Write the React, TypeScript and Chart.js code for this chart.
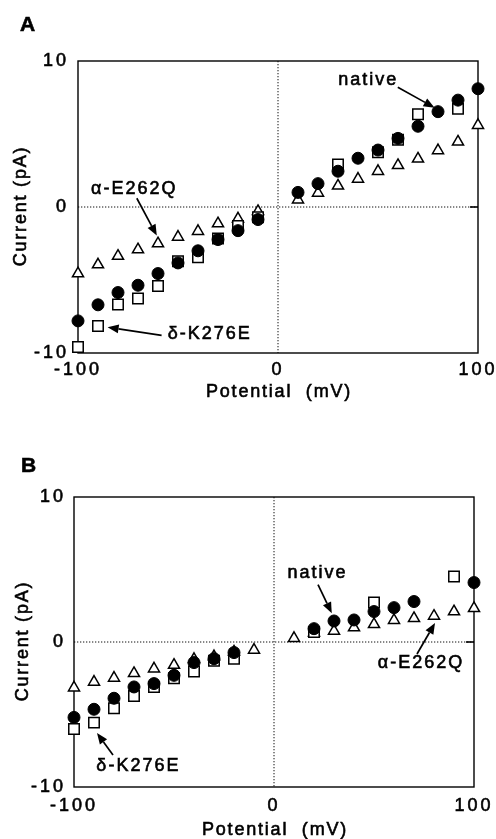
import { useEffect, useRef } from 'react';
import { Chart, registerables } from 'chart.js';

Chart.register(...registerables);

// ---- data ----
const potentials = [-100, -90, -80, -70, -60, -50, -40, -30, -20, -10, 10, 20, 30, 40, 50, 60, 70, 80, 90, 100];

const nativeA = [-7.8, -6.7, -5.86, -5.36, -4.56, -3.83, -3.0, -2.23, -1.62, -0.86, 1.0, 1.6, 2.45, 3.34, 3.9, 4.7, 5.53, 6.53, 7.32, 8.1];
const deltaA = [-9.59, -8.15, -6.68, -6.27, -5.41, -3.72, -3.45, -2.16, -1.3, -0.7, null, null, 2.92, null, 3.75, 4.6, 6.35, null, 6.72, null];
const alphaA = [-4.56, -3.95, -3.36, -2.92, -2.51, -2.05, -1.66, -1.14, -0.8, -0.3, 0.5, 0.96, 1.45, 1.92, 2.45, 2.85, 3.3, 3.87, 4.46, 5.6];

const nativeB = [-5.2, -4.64, -3.88, -3.1, -2.87, -2.3, -1.42, -1.15, -0.73, null, null, 0.92, 1.45, 1.52, 2.1, 2.37, 2.79, null, null, 4.1];
const deltaB = [-6.0, -5.56, -4.57, -3.72, -3.1, -2.5, -2.04, -1.3, -1.15, null, null, 0.69, null, null, 2.72, null, null, null, 4.51, null];
const alphaB = [-3.15, -2.76, -2.48, -2.16, -1.84, -1.59, -1.19, -1.0, -0.68, -0.55, 0.26, 0.64, 0.76, 0.99, 1.22, 1.5, 1.63, 1.79, 2.1, 2.32];

const xTickValues = [-100, 0, 100];
const xTickLabels = ['-100', '0', '100'];
const yTickValues = [-10, 0, 10];
const yTickLabels = ['-10', '0', '10'];

const xTitle = 'Potential  (mV)';
const yTitle = 'Current (pA)';
const seriesNames = ['native', 'δ-K276E', 'α-E262Q'];

// ---- layout / annotation config ----
type Note = { text: string; tx: number; ty: number; fx: number; fy: number; ax: number; ay: number };
type Panel = {
  letter: string;
  height: number;
  series: (number | null)[][];
  left: number; right: number; top: number; bottom: number;
  xPad: number; yPad: number;
  yTitleX: number; xTitleY: number;
  letterX: number; letterY: number;
  notes: Note[];
};

const FONT = "'Liberation Sans', Arial, Helvetica, sans-serif";
const TEXT_STROKE = 0.6;

const panels: Panel[] = [
  {
    letter: 'A', height: 420,
    series: [nativeA, deltaA, alphaA],
    left: 78, right: 478, top: 61, bottom: 353,
    xPad: 6, yPad: 9,
    yTitleX: 21, xTitleY: 392,
    letterX: 20, letterY: 31,
    notes: [
      { text: seriesNames[0], tx: 44.6, ty: 8.68, fx: 59.9, fy: 8.2, ax: 78.3, ay: 6.8 },
      { text: seriesNames[2], tx: -72.4, ty: 1.25, fx: -70.6, fy: 0.6, ax: -60.6, ay: -1.95 },
      { text: seriesNames[1], tx: -34.6, ty: -8.72, fx: -58.2, fy: -8.79, ax: -85.2, ay: -8.24 },
    ],
  },
  {
    letter: 'B', height: 419,
    series: [nativeB, deltaB, alphaB],
    left: 74, right: 474, top: 77, bottom: 367,
    xPad: 8, yPad: 8,
    yTitleX: 23, xTitleY: 410,
    letterX: 21, letterY: 52,
    notes: [
      { text: seriesNames[0], tx: 21.3, ty: 4.76, fx: 22, fy: 3.95, ax: 28.9, ay: 1.98 },
      { text: seriesNames[2], tx: 73, ty: -1.45, fx: 71.5, fy: -0.83, ax: 80.5, ay: 1.31 },
      { text: seriesNames[1], tx: -68.3, ty: -8.55, fx: -80.5, fy: -7.79, ax: -88.5, ay: -6.28 },
    ],
  },
];

function makeData(values: (number | null)[]) {
  const out: { x: number; y: number }[] = [];
  potentials.forEach((p, i) => {
    const v = values[i];
    if (v !== null && v !== undefined) out.push({ x: p, y: v });
  });
  return out;
}

function drawArrow(ctx: CanvasRenderingContext2D, x1: number, y1: number, x2: number, y2: number) {
  const ang = Math.atan2(y2 - y1, x2 - x1);
  const len = 11;
  const hw = 4.5;
  const bx = x2 - Math.cos(ang) * len;
  const by = y2 - Math.sin(ang) * len;
  ctx.beginPath();
  ctx.moveTo(x1, y1);
  ctx.lineTo(bx, by);
  ctx.lineWidth = 1.7;
  ctx.strokeStyle = '#000';
  ctx.stroke();
  ctx.beginPath();
  ctx.moveTo(x2, y2);
  ctx.lineTo(bx + Math.sin(ang) * hw, by - Math.cos(ang) * hw);
  ctx.lineTo(bx - Math.sin(ang) * hw, by + Math.cos(ang) * hw);
  ctx.closePath();
  ctx.fillStyle = '#000';
  ctx.fill();
}

function drawText(ctx: CanvasRenderingContext2D, s: string, x: number, y: number) {
  ctx.lineWidth = TEXT_STROKE;
  ctx.strokeStyle = '#000';
  ctx.strokeText(s, x, y);
  ctx.fillText(s, x, y);
}

function decorPlugin(panel: Panel) {
  return {
    id: 'decor' + panel.letter,
    beforeDraw(chart: any) {
      (chart.ctx as any).letterSpacing = '3px';
    },
    beforeDatasetsDraw(chart: any) {
      const ctx: CanvasRenderingContext2D = chart.ctx;
      const { left, right, top, bottom } = chart.chartArea;
      const xs = chart.scales.x;
      const ys = chart.scales.y;
      ctx.save();
      (ctx as any).letterSpacing = '0px';
      // dotted zero lines
      ctx.setLineDash([1.3, 1.7]);
      ctx.lineWidth = 1;
      ctx.strokeStyle = '#111';
      const y0 = ys.getPixelForValue(0);
      const x0 = xs.getPixelForValue(0);
      ctx.beginPath();
      ctx.moveTo(left, y0);
      ctx.lineTo(right, y0);
      ctx.moveTo(x0, top);
      ctx.lineTo(x0, bottom);
      ctx.stroke();
      ctx.setLineDash([]);
      // frame
      ctx.lineWidth = 1.4;
      ctx.strokeStyle = '#000';
      ctx.strokeRect(left, top, right - left, bottom - top);
      // short inner tick at right end of zero line
      ctx.lineWidth = 1.6;
      ctx.beginPath();
      ctx.moveTo(right - 8, y0);
      ctx.lineTo(right, y0);
      ctx.stroke();
      ctx.restore();
    },
    afterDatasetsDraw(chart: any) {
      const ctx: CanvasRenderingContext2D = chart.ctx;
      const xs = chart.scales.x;
      const ys = chart.scales.y;
      ctx.save();
      (ctx as any).letterSpacing = '2px';
      ctx.font = `18px ${FONT}`;
      ctx.fillStyle = '#000';
      ctx.textAlign = 'center';
      ctx.textBaseline = 'middle';
      panel.notes.forEach((n) => {
        drawText(ctx, n.text, xs.getPixelForValue(n.tx) + 1, ys.getPixelForValue(n.ty));
        drawArrow(
          ctx,
          xs.getPixelForValue(n.fx), ys.getPixelForValue(n.fy),
          xs.getPixelForValue(n.ax), ys.getPixelForValue(n.ay)
        );
      });
      ctx.restore();
    },
    afterDraw(chart: any) {
      const ctx: CanvasRenderingContext2D = chart.ctx;
      const { left, right, top, bottom } = chart.chartArea;
      ctx.save();
      ctx.fillStyle = '#000';
      (ctx as any).letterSpacing = '1.8px';
      ctx.font = `18px ${FONT}`;
      ctx.textAlign = 'center';
      ctx.textBaseline = 'middle';
      drawText(ctx, xTitle, (left + right) / 2 + 1, panel.xTitleY);
      ctx.save();
      ctx.translate(panel.yTitleX, (top + bottom) / 2);
      ctx.rotate(-Math.PI / 2);
      drawText(ctx, yTitle, 1, 0);
      ctx.restore();
      (ctx as any).letterSpacing = '0px';
      ctx.font = `bold 21px ${FONT}`;
      ctx.textAlign = 'left';
      ctx.textBaseline = 'alphabetic';
      drawText(ctx, panel.letter, panel.letterX, panel.letterY);
      ctx.restore();
    },
  };
}

function PanelChart({ panel }: { panel: Panel }) {
  const ref = useRef<HTMLCanvasElement>(null);
  useEffect(() => {
    if (!ref.current) return;
    const styles = [
      { pointStyle: 'circle', pointRadius: 6, backgroundColor: '#000', borderColor: '#000', borderWidth: 1 },
      { pointStyle: 'rect', pointRadius: 7.4, backgroundColor: '#fff', borderColor: '#000', borderWidth: 1.5 },
      { pointStyle: 'triangle', pointRadius: 6.4, backgroundColor: '#fff', borderColor: '#000', borderWidth: 1.5 },
    ];
    const tickFont = { family: FONT, size: 18 };
    const chart = new Chart(ref.current, {
      type: 'scatter',
      data: {
        datasets: panel.series.map((s, i) => ({
          label: seriesNames[i],
          data: makeData(s),
          order: i,
          pointStyle: styles[i].pointStyle as any,
          pointRadius: styles[i].pointRadius,
          pointHoverRadius: styles[i].pointRadius,
          pointBackgroundColor: styles[i].backgroundColor,
          pointBorderColor: styles[i].borderColor,
          pointBorderWidth: styles[i].borderWidth,
          backgroundColor: styles[i].backgroundColor,
          borderColor: styles[i].borderColor,
          showLine: false,
          clip: false as any,
        })),
      },
      options: {
        animation: false,
        responsive: false,
        devicePixelRatio: 1,
        events: [],
        layout: { padding: { left: 0, right: 496 - panel.right, top: panel.top, bottom: 0 } },
        plugins: { legend: { display: false }, tooltip: { enabled: false }, title: { display: false } },
        scales: {
          x: {
            type: 'linear',
            min: -100,
            max: 100,
            grid: { display: false, drawTicks: false },
            border: { display: false },
            afterBuildTicks: (scale: any) => {
              scale.ticks = xTickValues.map((v) => ({ value: v }));
            },
            afterFit: (scale: any) => {
              scale.height = panel.height - panel.bottom;
              scale.paddingLeft = 0;
              scale.paddingRight = 0;
            },
            ticks: {
              autoSkip: false,
              maxRotation: 0,
              padding: panel.xPad,
              color: '#000',
              textStrokeColor: '#000',
              textStrokeWidth: TEXT_STROKE,
              font: tickFont,
              callback: (_v: any, i: number) => xTickLabels[i],
            },
          },
          y: {
            type: 'linear',
            min: -10,
            max: 10,
            grid: { display: false, drawTicks: false },
            border: { display: false },
            afterBuildTicks: (scale: any) => {
              scale.ticks = yTickValues.map((v) => ({ value: v }));
            },
            afterFit: (scale: any) => {
              scale.width = panel.left;
              scale.paddingTop = 0;
              scale.paddingBottom = 0;
            },
            ticks: {
              autoSkip: false,
              padding: panel.yPad,
              color: '#000',
              textStrokeColor: '#000',
              textStrokeWidth: TEXT_STROKE,
              font: tickFont,
              callback: (_v: any, i: number) => yTickLabels[i],
            },
          },
        },
      },
      plugins: [decorPlugin(panel)],
    } as any);
    return () => chart.destroy();
  }, [panel]);
  return (
    <canvas
      ref={ref}
      width={496}
      height={panel.height}
      style={{ display: 'block', width: 496, height: panel.height }}
    />
  );
}

export default function App() {
  return (
    <div style={{ position: 'absolute', left: 0, top: 0, width: 496, height: 839, background: '#fff' }}>
      {panels.map((p) => (
        <PanelChart key={p.letter} panel={p} />
      ))}
    </div>
  );
}
